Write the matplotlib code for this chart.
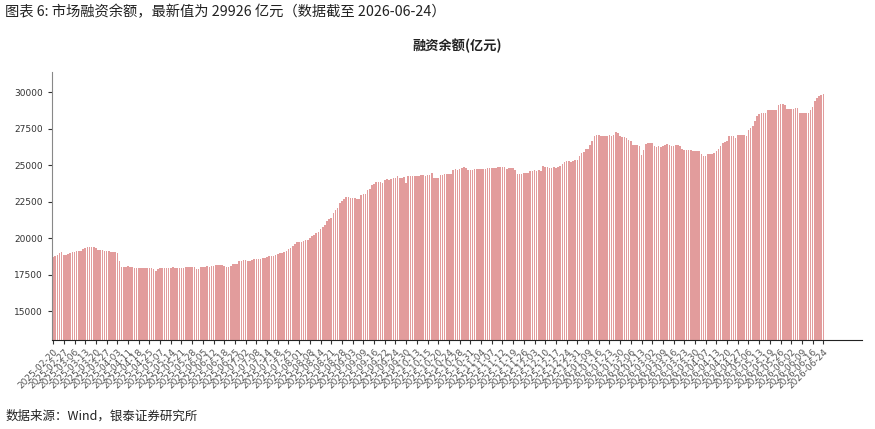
import numpy as np
import matplotlib.pyplot as plt

plt.rcParams['font.family'] = ['Noto Sans CJK SC', 'DejaVu Sans']

# tick labels, one every 5 trading days
tick_labels = [
    '2025-02-20', '2025-02-27', '2025-03-06', '2025-03-13', '2025-03-20', '2025-03-27',
    '2025-04-03', '2025-04-11', '2025-04-18', '2025-04-25', '2025-05-07', '2025-05-14',
    '2025-05-21', '2025-05-28', '2025-06-05', '2025-06-12', '2025-06-18', '2025-06-25',
    '2025-07-02', '2025-07-08', '2025-07-14', '2025-07-18', '2025-07-25', '2025-08-01',
    '2025-08-08', '2025-08-14', '2025-08-21', '2025-08-28', '2025-09-03', '2025-09-09',
    '2025-09-16', '2025-09-22', '2025-09-24', '2025-09-30', '2025-10-13', '2025-10-15',
    '2025-10-20', '2025-10-24', '2025-10-28', '2025-10-31', '2025-11-04', '2025-11-07',
    '2025-11-12', '2025-11-19', '2025-11-26', '2025-12-03', '2025-12-10', '2025-12-17',
    '2025-12-24', '2025-12-31', '2026-01-09', '2026-01-16', '2026-01-23', '2026-01-30',
    '2026-02-06', '2026-02-13', '2026-03-02', '2026-03-09', '2026-03-16', '2026-03-23',
    '2026-03-30', '2026-04-07', '2026-04-13', '2026-04-20', '2026-04-27', '2026-05-06',
    '2026-05-13', '2026-05-19', '2026-05-26', '2026-06-02', '2026-06-09', '2026-06-16',
    '2026-06-24',
]

# margin financing balance (100m yuan), daily
balance = [
    18680, 18750, 18880, 18960, 19040,
    18880, 18870, 18900, 18950, 19020,
    19080, 19100, 19110, 19150, 19225,
    19300, 19380, 19410, 19420, 19400,
    19300, 19220, 19180, 19160, 19140,
    19120, 19100, 19080, 19060, 19030,
    19000, 18420, 18040, 18020, 18050,
    18060, 18030, 18000, 17980, 17970,
    17960, 17980, 17970, 17950, 17960,
    17940, 17930, 17920, 17740, 17900,
    17950, 17970, 17960, 17980, 17970,
    17960, 17990, 17970, 17960, 17980,
    17970, 17950, 17990, 18000, 18010,
    17990, 18000, 17900, 17920, 18000,
    18030, 18050, 18060, 18040, 18080,
    18100, 18130, 18150, 18160, 18140,
    18120, 18000, 18010, 18080, 18200,
    18230, 18260, 18420, 18450, 18470,
    18480, 18460, 18420, 18500, 18540,
    18560, 18580, 18600, 18620, 18650,
    18700, 18750, 18770, 18800, 18880,
    18920, 18980, 19000, 19020, 19150,
    19250, 19340, 19450, 19600, 19725,
    19740, 19720, 19800, 19880, 19910,
    20000, 20150, 20250, 20350, 20450,
    20600, 20800, 20890, 21200, 21350,
    21380, 21760, 21950, 22100, 22420,
    22550, 22700, 22810, 22800, 22780,
    22790, 22750, 22700, 22720, 22990,
    23000, 23050, 23290, 23350, 23680,
    23750, 23860, 23870, 23850, 23800,
    24020, 24030, 24010, 24050, 24130,
    24140, 24280, 24150, 24130, 24170,
    23790, 24290, 24280, 24300, 24290,
    24300, 24290, 24310, 24320, 24300,
    24330, 24340, 24470, 24130, 24150,
    24140, 24350, 24360, 24380, 24400,
    24380, 24420, 24700, 24720, 24710,
    24750, 24800, 24880, 24850, 24700,
    24690, 24710, 24750, 24740, 24760,
    24750, 24770, 24760, 24790, 24810,
    24800, 24820, 24810, 24860, 24880,
    24870, 24890, 24750, 24800, 24810,
    24820, 24700, 24410, 24420, 24430,
    24450, 24470, 24480, 24600, 24640,
    24650, 24640, 24660, 24600, 24960,
    24880, 24860, 24850, 24840, 24860,
    24850, 24870, 24980, 25100, 25200,
    25270, 25280, 25260, 25300, 25390,
    25400, 25620, 25850, 25900, 26120,
    26150, 26400, 26640, 26990, 27100,
    27050, 27000, 27030, 27040, 27030,
    27060, 27020, 27050, 27260, 27200,
    27030, 26950, 26940, 26900, 26710,
    26700, 26420, 26400, 26420, 26300,
    25730, 26080, 26450, 26530, 26550,
    26520, 26300, 26280, 26300, 26290,
    26310, 26420, 26430, 26400, 26320,
    26350, 26400, 26380, 26320, 26100,
    26060, 26050, 26070, 26030, 25970,
    25980, 25950, 25970, 25800, 25620,
    25620, 25750, 25760, 25800, 25850,
    26000, 26150, 26350, 26500, 26600,
    26650, 27000, 27030, 27020, 26900,
    27100, 27110, 27100, 27090, 27000,
    27400, 27550, 27670, 28010, 28360,
    28550, 28590, 28600, 28590, 28770,
    28780, 28770, 28800, 28780, 29160,
    29180, 29200, 29160, 28880, 28850,
    28880, 28870, 28930, 28920, 28610,
    28600, 28620, 28580, 28610, 28800,
    29000, 29400, 29620, 29750, 29840,
    29926,
]

fig = plt.figure(figsize=(8.75, 4.29), dpi=100)
ax = fig.add_axes([0.059, 0.207, 0.926, 0.625])

x = np.arange(len(balance))
ax.bar(x, balance, width=0.75, color='#d05a5a', alpha=0.6, linewidth=0)

ax.set_ylim(13000, 31400)
ax.set_xlim(-0.7, 378)
ax.set_yticks([15000, 17500, 20000, 22500, 25000, 27500, 30000])
ax.set_xticks(x[::5])
ax.set_xticklabels(tick_labels, rotation=45, ha='right', rotation_mode='anchor',
                   fontsize=6.5, color='#555555', family='DejaVu Sans')
ax.tick_params(axis='y', labelsize=6.5, length=3, color='#333333', labelcolor='#333333')
ax.tick_params(axis='x', length=3, pad=2, color='#333333')
for lab in ax.get_yticklabels():
    lab.set_family('DejaVu Sans')

ax.spines['top'].set_visible(False)
ax.spines['right'].set_visible(False)
ax.spines['left'].set_color('#888888')
ax.spines['bottom'].set_color('#222222')

ax.set_title('融资余额(亿元)', fontsize=9.5, fontweight='bold', pad=16, color='#222222')

fig.text(0.006, 0.972, '图表 6: 市场融资余额，最新值为 29926 亿元（数据截至 2026-06-24）',
         fontsize=10.3, va='center', ha='left', color='#222222')
fig.text(0.006, 0.031, '数据来源：Wind，银泰证券研究所',
         fontsize=9, va='center', ha='left', color='#222222')

fig.savefig('out.png', dpi=100)
